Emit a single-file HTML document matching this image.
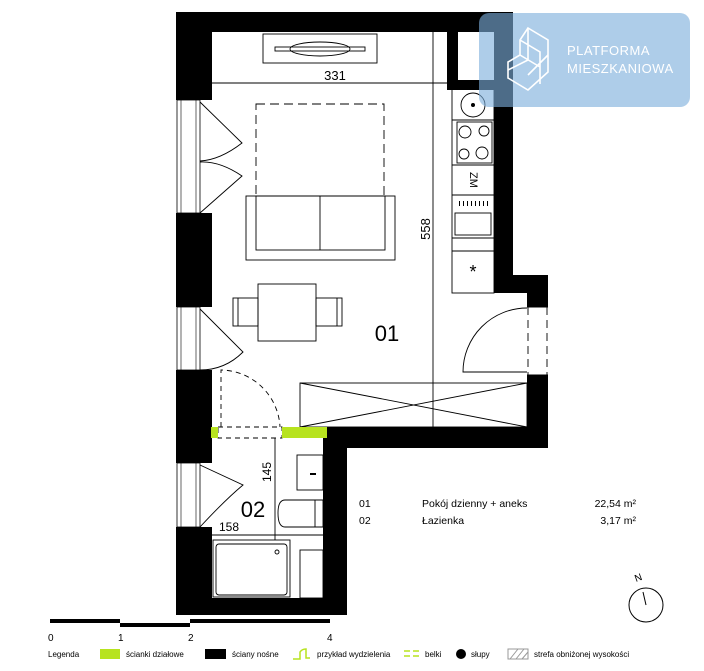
<!DOCTYPE html>
<html><head><meta charset="utf-8"><style>
body{margin:0;background:#fff;width:704px;height:666px;overflow:hidden;font-family:"Liberation Sans",sans-serif}
</style></head><body>
<svg width="704" height="666" viewBox="0 0 704 666" xmlns="http://www.w3.org/2000/svg" font-family="Liberation Sans, sans-serif">
<g fill="#000">
<rect x="176" y="12" width="337" height="20"/>
<rect x="447" y="12" width="11" height="78"/>
<rect x="447" y="80" width="66" height="10"/>
<rect x="494" y="12" width="19" height="281"/>
<rect x="494" y="275" width="54" height="18"/>
<rect x="527" y="275" width="21" height="32"/>
<rect x="527" y="375" width="21" height="73"/>
<rect x="323" y="427" width="225" height="21"/>
<rect x="323" y="427" width="24" height="188"/>
<rect x="176" y="598" width="171" height="17"/>
<rect x="176" y="12" width="36" height="88"/>
<rect x="176" y="213" width="36" height="94"/>
<rect x="176" y="370" width="36" height="93"/>
<rect x="176" y="527" width="36" height="88"/>
</g>
<g fill="#fff" stroke="#000" stroke-width="0.8">
<rect x="177" y="100" width="23" height="113"/>
<rect x="177" y="307" width="23" height="63"/>
<rect x="177" y="463" width="23" height="64"/>
</g>
<g stroke="#000" stroke-width="0.6">
<line x1="181" y1="100" x2="181" y2="213"/><line x1="196" y1="100" x2="196" y2="213"/>
<line x1="181" y1="307" x2="181" y2="370"/><line x1="196" y1="307" x2="196" y2="370"/>
<line x1="181" y1="463" x2="181" y2="527"/><line x1="196" y1="463" x2="196" y2="527"/>
</g>
<g fill="none" stroke="#000" stroke-width="0.9">
<path d="M200 102 L242 143 Q220 160 200 161"/>
<path d="M200 213 L242 176 Q220 161 200 162"/>
<path d="M200 309 L243 352 Q225 370 200 370"/>
<path d="M200 465 L243 485 Q225 500 200 527"/>
<line x1="212" y1="83" x2="447" y2="83"/>
<line x1="433" y1="32" x2="433" y2="427"/>
<rect x="263" y="34" width="114" height="29"/>
<rect x="275" y="47" width="90" height="4"/>
<ellipse cx="320" cy="49" rx="30" ry="7"/>
<rect x="256" y="104" width="128" height="92" stroke-dasharray="9 5"/>
<rect x="246" y="196" width="149" height="64"/>
<rect x="256" y="196" width="129" height="54"/>
<line x1="320" y1="196" x2="320" y2="250"/>
<rect x="258" y="284" width="58" height="57"/>
<rect x="233" y="298" width="25" height="28"/><line x1="238" y1="298" x2="238" y2="326"/>
<rect x="316" y="298" width="26" height="28"/><line x1="337" y1="298" x2="337" y2="326"/>
<rect x="452" y="88" width="42" height="205"/>
<line x1="452" y1="120" x2="494" y2="120"/>
<rect x="457" y="122" width="35" height="41"/>
<circle cx="465" cy="132" r="6"/><circle cx="484" cy="131" r="5"/>
<circle cx="464" cy="154" r="5"/><circle cx="482" cy="153" r="6"/>
<line x1="452" y1="165" x2="494" y2="165"/>
<line x1="452" y1="195" x2="494" y2="195"/>
<rect x="455" y="213" width="36" height="22"/>
<line x1="452" y1="238" x2="494" y2="238"/>
<line x1="452" y1="251" x2="494" y2="251"/>
<circle cx="473" cy="105" r="12"/>
<path d="M527 308 A64 64 0 0 0 463 372 L527 372"/>
<line x1="527" y1="307" x2="548" y2="307"/><line x1="527" y1="375" x2="548" y2="375"/>
<line x1="528" y1="307" x2="528" y2="375" stroke-dasharray="8 5"/>
<line x1="547" y1="307" x2="547" y2="375" stroke-dasharray="8 5"/>
<rect x="300" y="383" width="227" height="44"/>
<line x1="300" y1="383" x2="527" y2="427"/><line x1="300" y1="427" x2="527" y2="383"/>
<path d="M221 427 L221 370 A60 60 0 0 1 280 427" stroke-dasharray="5 4"/>
<rect x="218" y="427" width="64" height="11" stroke-dasharray="5 4"/>
<line x1="275" y1="438" x2="275" y2="540"/>
<rect x="297" y="455" width="26" height="35"/>
<path d="M300 500 L323 500 L323 527 L285 527 Q278 527 278 513 Q278 500 285 500 Z"/>
<line x1="315" y1="500" x2="315" y2="527"/>
<line x1="212" y1="535" x2="323" y2="535"/>
<rect x="213" y="540" width="77" height="57"/>
<rect x="216" y="544" width="71" height="51" rx="3"/>
<circle cx="277" cy="552" r="2"/>
<rect x="300" y="550" width="23" height="48"/>
</g>
<circle cx="473" cy="105" r="2" fill="#000"/>
<rect x="310" y="473" width="6" height="2" fill="#000"/>
<g fill="#000" stroke="none">
<rect x="459" y="201" width="1" height="5"/><rect x="463" y="201" width="1" height="5"/><rect x="467" y="201" width="1" height="5"/><rect x="471" y="201" width="1" height="5"/><rect x="475" y="201" width="1" height="5"/><rect x="479" y="201" width="1" height="5"/><rect x="483" y="201" width="1" height="5"/><rect x="487" y="201" width="1" height="5"/>
</g>
<text x="473" y="180" font-size="11" text-anchor="middle" transform="rotate(90 473 180)" dominant-baseline="middle">ZM</text>
<text x="473" y="278" font-size="18" text-anchor="middle">*</text>
<rect x="211" y="427" width="7" height="11" fill="#b7e31f"/>
<rect x="282" y="427" width="45" height="11" fill="#b7e31f"/>
<text x="335" y="80" font-size="13" text-anchor="middle">331</text>
<text x="430" y="229" font-size="13" text-anchor="middle" transform="rotate(-90 430 229)">558</text>
<text x="387" y="341" font-size="22" text-anchor="middle">01</text>
<text x="253" y="517" font-size="22" text-anchor="middle">02</text>
<text x="271" y="472" font-size="12" text-anchor="middle" transform="rotate(-90 271 472)">145</text>
<text x="229" y="531" font-size="12" text-anchor="middle">158</text>
<g font-size="10.5">
<text x="359" y="507">01</text><text x="422" y="507">Pokój dzienny + aneks</text><text x="636" y="507" text-anchor="end">22,54 m²</text>
<text x="359" y="524">02</text><text x="422" y="524">Łazienka</text><text x="636" y="524" text-anchor="end">3,17 m²</text>
</g>
<circle cx="646" cy="605" r="17" fill="none" stroke="#000"/>
<line x1="646" y1="605" x2="643" y2="592" stroke="#000"/>
<text x="636" y="582" font-size="10" transform="rotate(-20 636 582)">N</text>
<rect x="50" y="619" width="70" height="4" fill="#000"/>
<rect x="120" y="623" width="70" height="4" fill="#000"/>
<rect x="190" y="619" width="140" height="4" fill="#000"/>
<g font-size="10"><text x="48" y="641">0</text><text x="118" y="641">1</text><text x="188" y="641">2</text><text x="327" y="641">4</text></g>
<g font-size="8">
<text x="48" y="657">Legenda</text>
<rect x="100" y="649" width="20" height="10" fill="#b7e31f"/><text x="126" y="657">ścianki działowe</text>
<rect x="205" y="649" width="21" height="10" fill="#000"/><text x="232" y="657">ściany nośne</text>
<path d="M293 659 L300 659 L300 652 Q302 649 306 649 L306 658 L310 658" fill="none" stroke="#b7e31f" stroke-width="1.5"/><text x="317" y="657">przykład wydzielenia</text>
<path d="M404 651 H410 M413 651 H419 M404 656 H410 M413 656 H419" stroke="#b7e31f" stroke-width="1.5"/><text x="425" y="657">belki</text>
<circle cx="461" cy="654" r="5" fill="#000"/><text x="471" y="657">słupy</text>
<rect x="508" y="649" width="20" height="10" fill="none" stroke="#999"/>
<path d="M510 659 L518 649 M516 659 L524 649 M522 659 L528 652" stroke="#999"/>
<text x="534" y="657">strefa obniżonej wysokości</text>
</g>
<rect x="479" y="13" width="211" height="94" rx="10" fill="rgb(125,175,220)" fill-opacity="0.62"/>
<g fill="none" stroke="#fff" stroke-width="1.6">
<path d="M528 28 L548 40 L548 72 L528 90 L508 78 L508 62 L520 55 L520 40 Z"/>
<path d="M520 40 L540 52 L540 84 M528 28 L528 60 L508 70 M520 55 L540 67 M548 55 L528 75"/>
</g>
<text x="567" y="55" font-size="13" fill="#fff" letter-spacing="0.5">PLATFORMA</text>
<text x="567" y="73" font-size="13" fill="#fff" letter-spacing="0.5">MIESZKANIOWA</text>
</svg>
</body></html>
